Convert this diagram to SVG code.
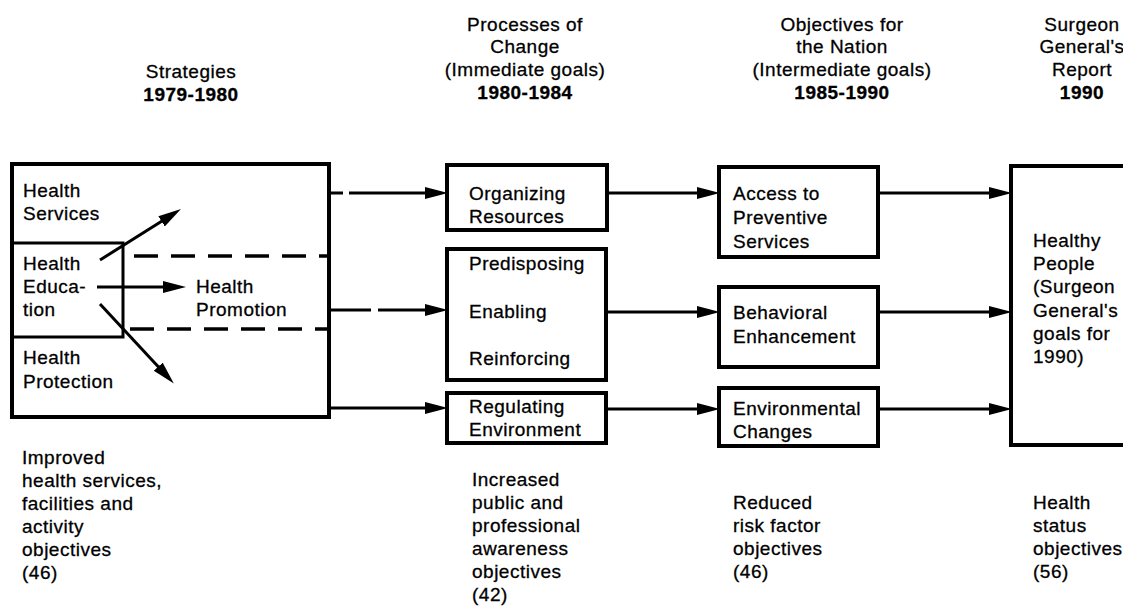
<svg xmlns="http://www.w3.org/2000/svg" width="1123" height="607" viewBox="0 0 1123 607">
<defs>
<style>
text{font-family:"Liberation Sans",Arial,Helvetica,sans-serif;font-size:19px;fill:#000;stroke:#000;stroke-width:0.3px;letter-spacing:0.5px}
.b{font-weight:bold}
.c{text-anchor:middle}
.box{fill:#fff;stroke:#000;stroke-width:4}
.ln{fill:none;stroke:#000;stroke-width:3}
.dash{fill:none;stroke:#000;stroke-width:3.5;stroke-dasharray:24 13}
.conn{fill:none;stroke:#000;stroke-width:3;marker-end:url(#ah)}
</style>
<marker id="ah" markerUnits="userSpaceOnUse" markerWidth="24" markerHeight="14" refX="10" refY="6" orient="auto" viewBox="0 0 24 12">
<path d="M0,0 L23,6 L0,12 z" fill="#000"/>
</marker>
</defs>
<rect width="1123" height="607" fill="#fff"/>

<g id="headings">
<text class="c" x="191" y="78">Strategies</text>
<text class="c b" x="191" y="101">1979-1980</text>
<text class="c" x="525" y="31">Processes of</text>
<text class="c" x="525" y="53">Change</text>
<text class="c" x="525" y="76">(Immediate goals)</text>
<text class="c b" x="525" y="99">1980-1984</text>
<text class="c" x="842" y="31">Objectives for</text>
<text class="c" x="842" y="53">the Nation</text>
<text class="c" x="842" y="76">(Intermediate goals)</text>
<text class="c b" x="842" y="99">1985-1990</text>
<text class="c" x="1082" y="31">Surgeon</text>
<text class="c" x="1082" y="53">General's</text>
<text class="c" x="1082" y="76">Report</text>
<text class="c b" x="1082" y="99">1990</text>
</g>

<g id="strategies">
<rect class="box" x="12" y="164" width="317" height="253"/>
<path class="ln" d="M12,243 H123 V337 H12"/>
<path class="dash" d="M134,256 H329"/>
<path class="dash" d="M130,329 H329"/>
<text x="23" y="197">Health</text>
<text x="23" y="220">Services</text>
<text x="23" y="270">Health</text>
<text x="23" y="293">Educa-</text>
<text x="23" y="316">tion</text>
<text x="23" y="364">Health</text>
<text x="23" y="388">Protection</text>
<path class="conn" d="M100,260 L170,216"/>
<path class="conn" d="M97,287 L173,287"/>
<path class="conn" d="M100,304 L165,374"/>
<text x="196" y="293">Health</text>
<text x="196" y="316">Promotion</text>
</g>

<g id="organizing">
<rect class="box" x="447" y="165" width="160" height="65"/>
<text x="469" y="200">Organizing</text>
<text x="469" y="223">Resources</text>
</g>

<g id="predisposing">
<rect class="box" x="447" y="249" width="159" height="131"/>
<text x="469" y="270">Predisposing</text>
<text x="469" y="318">Enabling</text>
<text x="469" y="365">Reinforcing</text>
</g>

<g id="regulating">
<rect class="box" x="447" y="393" width="159" height="50"/>
<text x="469" y="413">Regulating</text>
<text x="469" y="436">Environment</text>
</g>

<g id="access">
<rect class="box" x="719" y="167" width="159" height="90"/>
<text x="733" y="200">Access to</text>
<text x="733" y="224">Preventive</text>
<text x="733" y="248">Services</text>
</g>

<g id="behavioral">
<rect class="box" x="719" y="287" width="159" height="80"/>
<text x="733" y="319">Behavioral</text>
<text x="733" y="343">Enhancement</text>
</g>

<g id="environmental">
<rect class="box" x="719" y="388" width="159" height="58"/>
<text x="733" y="415">Environmental</text>
<text x="733" y="438">Changes</text>
</g>

<g id="healthy-people">
<rect class="box" x="1011" y="166" width="150" height="279"/>
<text x="1033" y="247">Healthy</text>
<text x="1033" y="270">People</text>
<text x="1033" y="293">(Surgeon</text>
<text x="1033" y="317">General's</text>
<text x="1033" y="340">goals for</text>
<text x="1033" y="363">1990)</text>
</g>

<g id="connectors">
<path class="conn" d="M331,193 H435" stroke-dasharray="12 6 200"/>
<path class="conn" d="M331,310 H435" stroke-dasharray="40 7 200"/>
<path class="conn" d="M331,408 H435"/>
<path class="conn" d="M607,193 H707"/>
<path class="conn" d="M606,312 H707"/>
<path class="conn" d="M606,409 H707"/>
<path class="conn" d="M878,193 H999"/>
<path class="conn" d="M878,312 H999"/>
<path class="conn" d="M878,409 H999"/>
</g>

<g id="outcomes">
<text x="22" y="464">Improved</text>
<text x="22" y="487">health services,</text>
<text x="22" y="510">facilities and</text>
<text x="22" y="533">activity</text>
<text x="22" y="556">objectives</text>
<text x="22" y="579">(46)</text>
<text x="472" y="486">Increased</text>
<text x="472" y="509">public and</text>
<text x="472" y="532">professional</text>
<text x="472" y="555">awareness</text>
<text x="472" y="578">objectives</text>
<text x="472" y="601">(42)</text>
<text x="733" y="509">Reduced</text>
<text x="733" y="532">risk factor</text>
<text x="733" y="555">objectives</text>
<text x="733" y="578">(46)</text>
<text x="1033" y="509">Health</text>
<text x="1033" y="532">status</text>
<text x="1033" y="555">objectives</text>
<text x="1033" y="578">(56)</text>
</g>
</svg>
